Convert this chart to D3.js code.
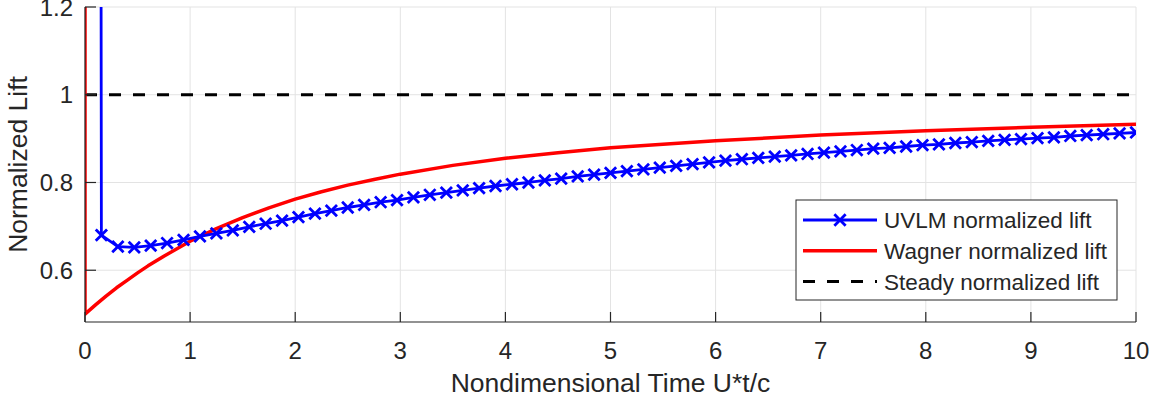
<!DOCTYPE html>
<html>
<head>
<meta charset="utf-8">
<script src="https://cdn.jsdelivr.net/npm/d3@7"></script>
<style>
  body { margin: 0; background: #fff; }
  text { font-family: "Liberation Sans", Arial, sans-serif; fill: #262626; }
</style>
</head>
<body>
<div id="chart"></div>
<script>
// Dados
const xTicks = [0, 1, 2, 3, 4, 5, 6, 7, 8, 9, 10];
const yTicks = [0.6, 0.8, 1, 1.2];

// UVLM: passos de tempo (primeiro ponto = pico impulsivo fora do gráfico)
const uvlmTime = [0, 0.156, 0.313, 0.469, 0.625, 0.781, 0.938, 1.094, 1.25, 1.406,
  1.563, 1.719, 1.875, 2.031, 2.188, 2.344, 2.5, 2.656, 2.813, 2.969,
  3.125, 3.281, 3.438, 3.594, 3.75, 3.906, 4.063, 4.219, 4.375, 4.531,
  4.688, 4.844, 5, 5.156, 5.313, 5.469, 5.625, 5.781, 5.938, 6.094,
  6.25, 6.406, 6.563, 6.719, 6.875, 7.031, 7.188, 7.344, 7.5, 7.656,
  7.813, 7.969, 8.125, 8.281, 8.438, 8.594, 8.75, 8.906, 9.063, 9.219,
  9.375, 9.531, 9.688, 9.844, 10];
const uvlmLift = [30, 0.680, 0.654, 0.652, 0.656, 0.662, 0.669, 0.677, 0.684, 0.691,
  0.699, 0.706, 0.713, 0.721, 0.729, 0.736, 0.743, 0.749, 0.755, 0.760,
  0.766, 0.772, 0.777, 0.782, 0.787, 0.792, 0.796, 0.800, 0.805, 0.809,
  0.814, 0.818, 0.822, 0.826, 0.830, 0.834, 0.838, 0.842, 0.846, 0.850,
  0.853, 0.856, 0.859, 0.862, 0.865, 0.868, 0.871, 0.874, 0.877, 0.879,
  0.882, 0.885, 0.887, 0.890, 0.892, 0.895, 0.897, 0.899, 0.901, 0.903,
  0.906, 0.908, 0.910, 0.912, 0.914];

// Wagner (primeiro ponto = pico em t=0)
const wagnerTime = [0, 0, 0.1, 0.2, 0.3, 0.4, 0.5, 0.6, 0.75, 1, 1.25, 1.5, 1.75, 2,
  2.25, 2.5, 2.75, 3, 3.5, 4, 4.5, 5, 6, 7, 8, 9, 10];
const wagnerLift = [3, 0.5, 0.521, 0.541, 0.560, 0.577, 0.594, 0.610, 0.632, 0.666, 0.695,
  0.720, 0.742, 0.762, 0.779, 0.794, 0.807, 0.819, 0.839, 0.855, 0.868,
  0.879, 0.895, 0.908, 0.918, 0.926, 0.933];

const steadyTime = [0, 10];
const steadyLift = [1, 1];

const legendLabels = ["UVLM normalized lift", "Wagner normalized lift", "Steady normalized lift"];

// Dimensões
const W = 1152, H = 398;
const margin = { top: 7, right: 16, bottom: 76, left: 85 };
const width = W - margin.left - margin.right;
const height = H - margin.top - margin.bottom;

const svg = d3.select("#chart").append("svg")
    .attr("width", W)
    .attr("height", H);

const g = svg.append("g")
    .attr("transform", `translate(${margin.left},${margin.top})`);

const x = d3.scaleLinear().domain([0, 10]).range([0, width]);
const y = d3.scaleLinear().domain([0.482, 1.2]).range([height, 0]);

// Grade
g.append("g").selectAll("line").data(xTicks).enter().append("line")
    .attr("x1", d => x(d)).attr("x2", d => x(d))
    .attr("y1", 0).attr("y2", height)
    .attr("stroke", "#e3e3e3").attr("stroke-width", 1);
g.append("g").selectAll("line").data(yTicks).enter().append("line")
    .attr("x1", 0).attr("x2", width)
    .attr("y1", d => y(d)).attr("y2", d => y(d))
    .attr("stroke", "#e3e3e3").attr("stroke-width", 1);

// Clip
svg.append("clipPath").attr("id", "clip")
  .append("rect").attr("x", 0).attr("y", 0).attr("width", width).attr("height", height);

const plot = g.append("g").attr("clip-path", "url(#clip)");

const line = d3.line().x(d => x(d[0])).y(d => y(d[1]));

const steady = steadyTime.map((t, i) => [t, steadyLift[i]]);
const wagner = wagnerTime.map((t, i) => [t, wagnerLift[i]]);
const uvlm = uvlmTime.map((t, i) => [t, uvlmLift[i]]);

plot.append("path").datum(steady)
    .attr("d", line).attr("fill", "none")
    .attr("stroke", "#000").attr("stroke-width", 3)
    .attr("stroke-dasharray", "12,12");

plot.append("path").datum(wagner)
    .attr("d", line).attr("fill", "none")
    .attr("stroke", "#ff0000").attr("stroke-width", 3.5)
    .attr("stroke-linejoin", "round");

plot.append("path").datum(uvlm)
    .attr("d", line).attr("fill", "none")
    .attr("stroke", "#0000ff").attr("stroke-width", 2.8)
    .attr("stroke-linejoin", "round");

const cross = d3.symbol().type(d3.symbolX).size(85);
plot.selectAll(".marker").data(uvlm).enter().append("path")
    .attr("class", "marker")
    .attr("d", cross)
    .attr("transform", d => `translate(${x(d[0])},${y(d[1])})`)
    .attr("fill", "none")
    .attr("stroke", "#0000ff").attr("stroke-width", 2.8);

// Eixos (ticks para dentro, estilo MATLAB)
const axisColor = "#262626";
g.append("line").attr("x1", 0).attr("x2", 0).attr("y1", 0).attr("y2", height)
    .attr("stroke", axisColor).attr("stroke-width", 1.2);
g.append("line").attr("x1", 0).attr("x2", width).attr("y1", height).attr("y2", height)
    .attr("stroke", axisColor).attr("stroke-width", 1.2);

g.selectAll(".xtick").data(xTicks).enter().append("line")
    .attr("x1", d => x(d)).attr("x2", d => x(d))
    .attr("y1", height).attr("y2", height - 10)
    .attr("stroke", axisColor).attr("stroke-width", 1.2);
g.selectAll(".ytick").data(yTicks).enter().append("line")
    .attr("x1", 0).attr("x2", 11)
    .attr("y1", d => y(d)).attr("y2", d => y(d))
    .attr("stroke", axisColor).attr("stroke-width", 1.2);

g.selectAll(".xlab").data(xTicks).enter().append("text")
    .attr("x", d => x(d)).attr("y", height + 37)
    .attr("text-anchor", "middle")
    .style("font-size", "24px")
    .text(d => d);
g.selectAll(".ylab").data(yTicks).enter().append("text")
    .attr("x", -12).attr("y", d => y(d) + 8.5)
    .attr("text-anchor", "end")
    .style("font-size", "24px")
    .text(d => d);

// Rótulos
g.append("text")
    .attr("x", width / 2).attr("y", height + 70)
    .attr("text-anchor", "middle")
    .style("font-size", "26.5px")
    .text("Nondimensional Time U*t/c");

g.append("text")
    .attr("transform", "rotate(-90)")
    .attr("x", -height / 2).attr("y", -58)
    .attr("text-anchor", "middle")
    .style("font-size", "26.5px")
    .text("Normalized Lift");

// Legenda
const legend = svg.append("g").attr("transform", "translate(796,200)");
legend.append("rect")
    .attr("width", 321).attr("height", 100)
    .attr("fill", "#fff").attr("stroke", "#262626").attr("stroke-width", 1);

const legendStyles = [
  { color: "#0000ff", width: 2.8, dash: null, marker: true },
  { color: "#ff0000", width: 3.5, dash: null, marker: false },
  { color: "#000", width: 3, dash: "12,12", marker: false }
];

legendLabels.forEach((label, i) => {
  const ly = 20 + i * 30.8;
  const s = legendStyles[i];
  const ln = legend.append("line")
      .attr("x1", 7).attr("x2", 81).attr("y1", ly).attr("y2", ly)
      .attr("stroke", s.color).attr("stroke-width", s.width);
  if (s.dash) ln.attr("stroke-dasharray", s.dash);
  if (s.marker) {
    legend.append("path").attr("d", cross)
        .attr("transform", `translate(44,${ly})`)
        .attr("fill", "none").attr("stroke", s.color).attr("stroke-width", 2.8);
  }
  legend.append("text")
      .attr("x", 88).attr("y", ly + 8)
      .style("font-size", "22.5px")
      .text(label);
});
</script>
</body>
</html>
